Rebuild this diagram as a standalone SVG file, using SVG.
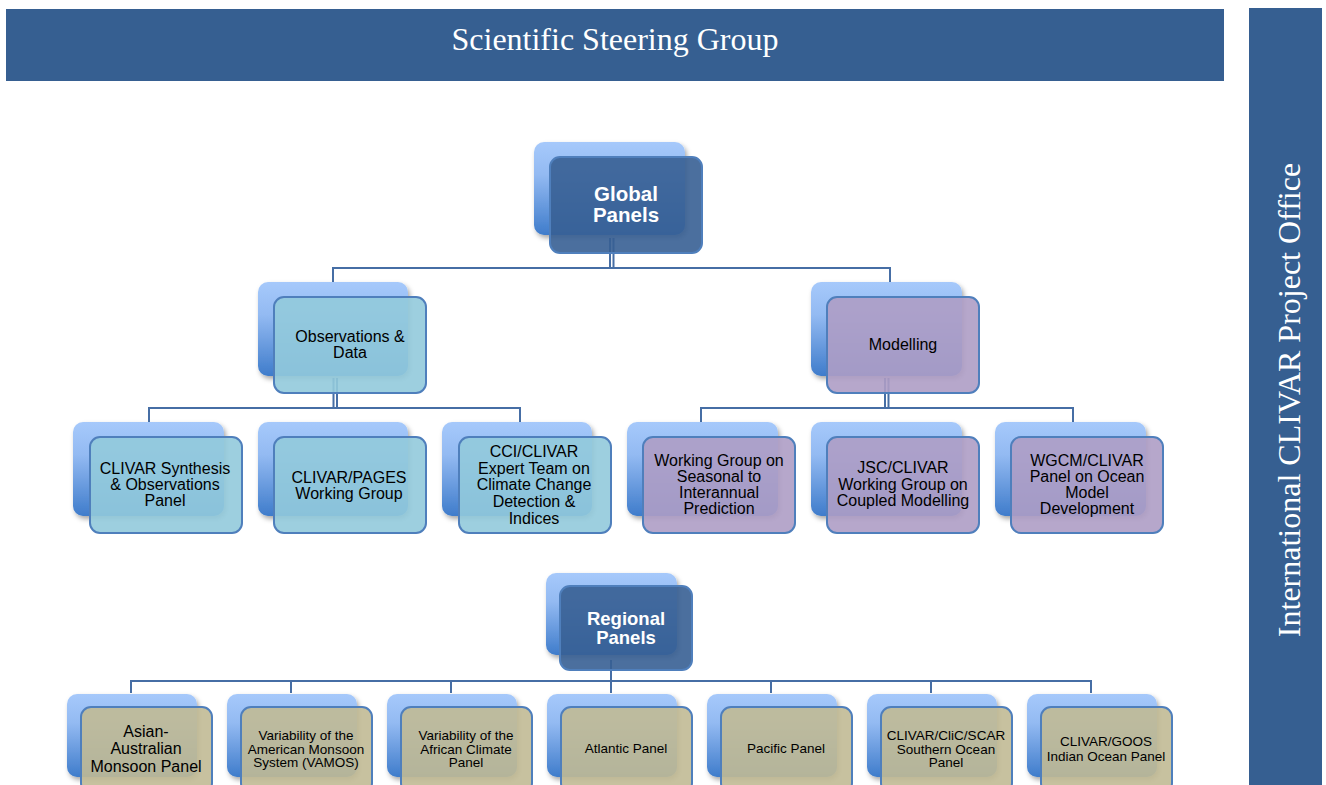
<svg xmlns="http://www.w3.org/2000/svg" width="1326" height="785" viewBox="0 0 1326 785">
<defs>
<linearGradient id="backGrad" x1="0" y1="0" x2="0" y2="1">
<stop offset="0" stop-color="#a6c9fb"/>
<stop offset="0.35" stop-color="#93baf2"/>
<stop offset="1" stop-color="#3f7ccb"/>
</linearGradient>
<filter id="shadow" x="-10%" y="-10%" width="130%" height="130%">
<feDropShadow dx="2" dy="3" stdDeviation="2.5" flood-color="#000" flood-opacity="0.35"/>
</filter>
</defs>
<style>
.back{fill:url(#backGrad);filter:url(#shadow)}
.front{stroke:#4f7fbc;stroke-width:2;fill-opacity:0.9}
.dark{fill:#375f93}
.teal{fill:#92cadb}
.purple{fill:#ae9dc5}
.khaki{fill:#c1ba95}
.conn{fill:none;stroke:#466ea5;stroke-width:2}
.lbl{font-family:"Liberation Sans",Arial,sans-serif;font-size:16px;fill:#000;text-anchor:middle}
.sm{font-size:13.5px}
.hd{font-family:"Liberation Sans",Arial,sans-serif;font-size:20.5px;font-weight:bold;fill:#fff;text-anchor:middle}
.title{font-family:"Liberation Serif","Times New Roman",serif;font-size:32px;fill:#fff;text-anchor:middle}
</style>

<g id="header">
<rect x="6" y="9" width="1218" height="72" fill="#365f91"/>
<text class="title" x="615" y="50">Scientific Steering Group</text>
</g>
<g id="project-office">
<rect x="1249" y="8" width="73" height="777" fill="#365f91"/>
<text class="title" transform="translate(1300,400) rotate(-90)">International CLIVAR Project Office</text>
</g>

<g id="connectors">
<path class="conn" d="M610,238 V268 M613.5,238 V268"/>
<path class="conn" d="M333,282 V268 H890 V282"/>
<path class="conn" d="M333.5,378 V408 M337,378 V408"/>
<path class="conn" d="M149,422 V408 H520 V422"/>
<path class="conn" d="M885,378 V408 M888.5,378 V408"/>
<path class="conn" d="M701,422 V408 H1073 V422"/>
<path class="conn" d="M611,660 V681"/>
<path class="conn" d="M131,693 V681 H1091 V693 M291,681 V693 M451,681 V693 M611,681 V693 M771,681 V693 M931,681 V693"/>
</g>

<g id="global-panels">
<rect class="back" x="534" y="142" width="151" height="93" rx="10"/>
<rect class="front dark" x="550" y="157" width="152" height="96" rx="10"/>
<text class="hd" x="626" y="201">Global</text>
<text class="hd" x="626" y="222">Panels</text>
</g>

<g id="observations-data">
<rect class="back" x="258" y="282" width="150" height="94" rx="10"/>
<rect class="front teal" x="274" y="297" width="152" height="96" rx="10"/>
<text class="lbl" x="350" y="342">Observations &amp;</text>
<text class="lbl" x="350" y="358">Data</text>
</g>

<g id="modelling">
<rect class="back" x="811" y="282" width="151" height="94" rx="10"/>
<rect class="front purple" x="827" y="297" width="152" height="96" rx="10"/>
<text class="lbl" x="903" y="350">Modelling</text>
</g>

<g id="synthesis-observations">
<rect class="back" x="73" y="422" width="151" height="94" rx="10"/>
<rect class="front teal" x="90" y="437" width="152" height="96" rx="10"/>
<text class="lbl" x="165" y="474">CLIVAR Synthesis</text>
<text class="lbl" x="165" y="490">&amp; Observations</text>
<text class="lbl" x="165" y="506">Panel</text>
</g>

<g id="clivar-pages">
<rect class="back" x="258" y="422" width="150" height="94" rx="10"/>
<rect class="front teal" x="274" y="437" width="152" height="96" rx="10"/>
<text class="lbl" x="349" y="483">CLIVAR/PAGES</text>
<text class="lbl" x="349" y="499">Working Group</text>
</g>

<g id="cci-clivar">
<rect class="back" x="442" y="422" width="150" height="94" rx="10"/>
<rect class="front teal" x="459" y="437" width="152" height="96" rx="10"/>
<text class="lbl" x="534" y="457">CCI/CLIVAR</text>
<text class="lbl" x="534" y="474">Expert Team on</text>
<text class="lbl" x="534" y="490">Climate Change</text>
<text class="lbl" x="534" y="507">Detection &amp;</text>
<text class="lbl" x="534" y="524">Indices</text>
</g>

<g id="seasonal-interannual">
<rect class="back" x="627" y="422" width="151" height="94" rx="10"/>
<rect class="front purple" x="643" y="437" width="152" height="96" rx="10"/>
<text class="lbl" x="719" y="466">Working Group on</text>
<text class="lbl" x="719" y="482">Seasonal to</text>
<text class="lbl" x="719" y="498">Interannual</text>
<text class="lbl" x="719" y="514">Prediction</text>
</g>

<g id="coupled-modelling">
<rect class="back" x="811" y="422" width="151" height="94" rx="10"/>
<rect class="front purple" x="827" y="437" width="152" height="96" rx="10"/>
<text class="lbl" x="903" y="473">JSC/CLIVAR</text>
<text class="lbl" x="903" y="490">Working Group on</text>
<text class="lbl" x="903" y="506">Coupled Modelling</text>
</g>

<g id="ocean-model">
<rect class="back" x="995" y="422" width="151" height="94" rx="10"/>
<rect class="front purple" x="1011" y="437" width="152" height="96" rx="10"/>
<text class="lbl" x="1087" y="466">WGCM/CLIVAR</text>
<text class="lbl" x="1087" y="482">Panel on Ocean</text>
<text class="lbl" x="1087" y="498">Model</text>
<text class="lbl" x="1087" y="514">Development</text>
</g>

<g id="regional-panels">
<rect class="back" x="546" y="573" width="131" height="82" rx="10"/>
<rect class="front dark" x="560" y="586" width="132" height="84" rx="10"/>
<text class="hd" x="626" y="625" style="font-size:18.5px">Regional</text>
<text class="hd" x="626" y="644" style="font-size:18.5px">Panels</text>
</g>

<g id="asian-australian">
<rect class="back" x="67" y="694" width="130" height="83" rx="10"/>
<rect class="front khaki" x="81" y="707" width="131" height="86" rx="10"/>
<text class="lbl" x="146" y="737">Asian-</text>
<text class="lbl" x="146" y="754">Australian</text>
<text class="lbl" x="146" y="772">Monsoon Panel</text>
</g>

<g id="vamos">
<rect class="back" x="227" y="694" width="130" height="83" rx="10"/>
<rect class="front khaki" x="241" y="707" width="131" height="86" rx="10"/>
<text class="lbl sm" x="306" y="740">Variability of the</text>
<text class="lbl sm" x="306" y="754">American Monsoon</text>
<text class="lbl sm" x="306" y="767">System (VAMOS)</text>
</g>

<g id="african-climate">
<rect class="back" x="387" y="694" width="130" height="83" rx="10"/>
<rect class="front khaki" x="401" y="707" width="131" height="86" rx="10"/>
<text class="lbl sm" x="466" y="740">Variability of the</text>
<text class="lbl sm" x="466" y="754">African Climate</text>
<text class="lbl sm" x="466" y="767">Panel</text>
</g>

<g id="atlantic">
<rect class="back" x="547" y="694" width="130" height="83" rx="10"/>
<rect class="front khaki" x="561" y="707" width="131" height="86" rx="10"/>
<text class="lbl sm" x="626" y="753">Atlantic Panel</text>
</g>

<g id="pacific">
<rect class="back" x="707" y="694" width="130" height="83" rx="10"/>
<rect class="front khaki" x="721" y="707" width="131" height="86" rx="10"/>
<text class="lbl sm" x="786" y="753">Pacific Panel</text>
</g>

<g id="southern-ocean">
<rect class="back" x="867" y="694" width="130" height="83" rx="10"/>
<rect class="front khaki" x="881" y="707" width="131" height="86" rx="10"/>
<text class="lbl sm" x="946" y="740">CLIVAR/CliC/SCAR</text>
<text class="lbl sm" x="946" y="754">Southern Ocean</text>
<text class="lbl sm" x="946" y="767">Panel</text>
</g>

<g id="indian-ocean">
<rect class="back" x="1027" y="694" width="130" height="83" rx="10"/>
<rect class="front khaki" x="1041" y="707" width="131" height="86" rx="10"/>
<text class="lbl sm" x="1106" y="746">CLIVAR/GOOS</text>
<text class="lbl sm" x="1106" y="761">Indian Ocean Panel</text>
</g>
</svg>
